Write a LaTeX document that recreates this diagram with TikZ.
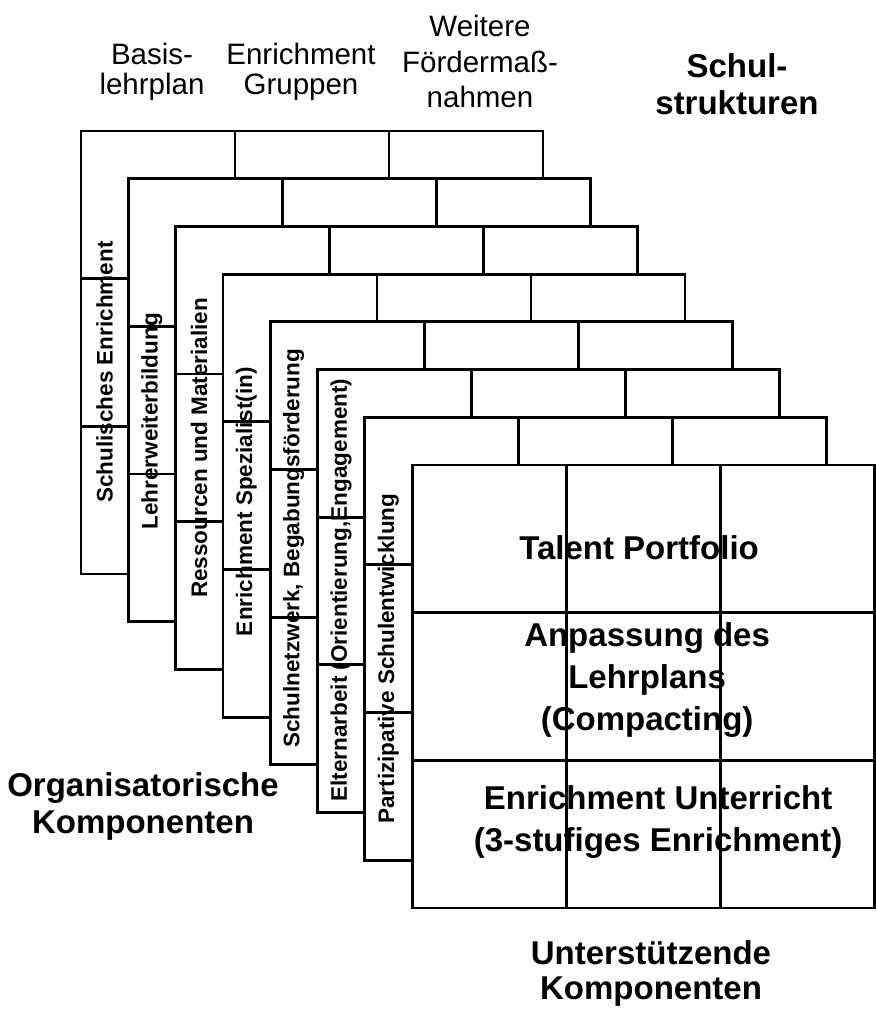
\documentclass[tikz,border=0pt]{standalone}
\usepackage{fontspec}
\setmainfont{Liberation Sans}
\usepackage{tikz}
\usetikzlibrary{calc,positioning}

\tikzset{
  layerbox/.style={rectangle,draw=black,fill=white,line width=2.8pt,
    minimum width=462pt,minimum height=443pt,
    inner sep=0pt,outer sep=0pt,anchor=north west},
  gridln/.style={line width=2.8pt},
  sidelbl/.style={rotate=90,inner sep=0pt,
    font=\fontsize{22.5}{26}\selectfont\bfseries},
  headlbl/.style={align=center,inner sep=0pt,anchor=north,
    font=\fontsize{29.5}{30}\selectfont},
  biglbl/.style={align=center,inner sep=0pt,anchor=north,
    font=\fontsize{33}{37}\selectfont\bfseries},
  celllbl/.style={biglbl,font=\fontsize{33}{42}\selectfont\bfseries},
}

\begin{document}
\begin{tikzpicture}[x=1pt,y=-1pt]
  \useasboundingbox (0,0) rectangle (875,1011);

  % stacked 3x3 layers, back to front
  \foreach \k in {0,...,7} {
    \node[layerbox] (lay\k) at ({81+47.3*\k},{131+47.7*\k}) {};
    \foreach \f in {1/3,2/3} {
      \draw[gridln] ($(lay\k.north west)!\f!(lay\k.north east)$)
        -- ($(lay\k.south west)!\f!(lay\k.south east)$);
      \draw[gridln] ($(lay\k.north west)!\f!(lay\k.south west)$)
        -- ($(lay\k.north east)!\f!(lay\k.south east)$);
    }
  }

  % organisational components on the left strips
  \foreach \k/\lbl/\dy in {0/{Schulisches Enrichment}/19.5,
      1/{Lehrerweiterbildung}/21,
      2/{Ressourcen und Materialien}/0,
      3/{Enrichment Spezialist(in)}/6,
      4/{Schulnetzwerk, Begabungsförderung}/5,
      5/{Elternarbeit (Orientierung,Engagement)}/-1,
      6/{Partizipative Schulentwicklung}/20}
    \node[sidelbl] (side\k) at ($(lay\k.west)+(23.5,\dy)$) {\lbl};

  % front face
  \node[celllbl] (talent) at ($(lay7.north west)+(227,70)$) {Talent Portfolio};
  \node[celllbl] (compact) at ($(lay7.north west)+(235,157)$)
    {Anpassung des\\Lehrplans\\(Compacting)};
  \node[celllbl] (enrich) at ($(lay7.north west)+(246,320)$)
    {Enrichment Unterricht\\(3-stufiges Enrichment)};

  % headings
  \node[headlbl] (basis) at (152,43) {Basis-\\lehrplan};
  \node[headlbl] (gruppen) at (301,43) {Enrichment\\Gruppen};
  \node[headlbl,font=\fontsize{29.5}{35.5}\selectfont] (weitere) at (480,15)
    {Weitere\\Fördermaß-\\nahmen};
  \node[biglbl] (schul) at (737,53) {Schul-\\strukturen};
  \node[biglbl] (orga) at (143,772) {Organisatorische\\Komponenten};
  \node[biglbl,font=\fontsize{33}{35}\selectfont\bfseries] (unter) at (651,940)
    {Unterstützende\\Komponenten};
\end{tikzpicture}
\end{document}
